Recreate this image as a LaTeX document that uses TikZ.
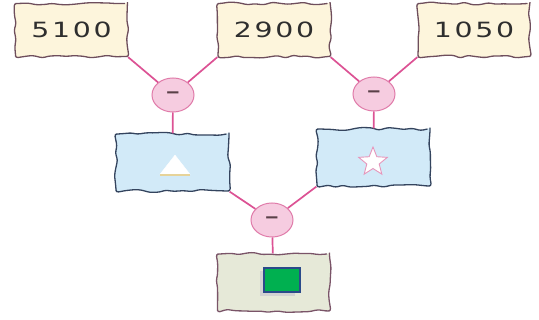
\documentclass[tikz,border=0pt]{standalone}
\usepackage{fontspec}
\setmainfont{DejaVu Sans}
\usetikzlibrary{shapes.geometric,decorations.pathmorphing}
\definecolor{linepink}{HTML}{DC5294}
\definecolor{circfill}{HTML}{F6CCE0}
\definecolor{circdraw}{HTML}{E07CAA}
\definecolor{yelfill}{HTML}{FDF5DC}
\definecolor{yeldraw}{HTML}{6E4E5C}
\definecolor{bluefill}{HTML}{D2EAF8}
\definecolor{bluedraw}{HTML}{34445E}
\definecolor{begfill}{HTML}{E6E9D8}
\definecolor{begdraw}{HTML}{7A5468}
\definecolor{numcol}{HTML}{2E2E2E}
\definecolor{minuscol}{HTML}{5A4048}
\definecolor{greenfill}{HTML}{00B050}
\definecolor{navy}{HTML}{2A4A8A}
\newcommand\wnum[1]{\scalebox{1.35}[1]{#1}}
\pgfmathsetseed{11}
\tikzset{
  wavy/.style={draw, line width=1.3pt, rounded corners=2.5pt,
    decoration={random steps,segment length=8pt,amplitude=1.6pt}, decorate,
    inner sep=0pt},
  numbox/.style={wavy, fill=yelfill, draw=yeldraw, minimum width=112pt, minimum height=53pt,
    font=\fontsize{21}{22}\selectfont, text=numcol},
  bluebox/.style={wavy, fill=bluefill, draw=bluedraw, minimum width=113pt, minimum height=57pt},
  begbox/.style={wavy, fill=begfill, draw=begdraw, minimum width=112pt, minimum height=57pt},
  opcirc/.style={ellipse, fill=circfill, draw=circdraw, line width=1pt,
    minimum width=42pt, minimum height=34pt, inner sep=0pt,
    font=\fontsize{18}{18}\selectfont\bfseries, text=minuscol},
  conn/.style={draw=linepink, line width=1.7pt},
}
\begin{document}
\begin{tikzpicture}[x=1pt,y=-1pt]
\useasboundingbox (0,0) rectangle (539,320);
% top number boxes
\node[numbox] (t1) at (71.5,30) {\wnum{5\kern2pt1\kern2pt0\kern2pt0}};
\node[numbox] (t2) at (274,30) {\wnum{2\kern2pt9\kern2pt0\kern2pt0}};
\node[numbox] (t3) at (474,30) {\wnum{1\kern2pt0\kern2pt5\kern2pt0}};
% operation circles
\node[opcirc] (c1) at (173,95) {−};
\node[opcirc] (c2) at (374,94) {−};
\node[opcirc] (c3) at (272,220) {−};
% middle boxes
\node[bluebox] (m1) at (172.5,162.5) {};
\node[bluebox] (m2) at (373.5,157.5) {};
% bottom box
\node[begbox] (b) at (273.5,282.5) {};
% symbols
\node[isosceles triangle, isosceles triangle apex angle=76, shape border rotate=90,
  fill=white, draw=white, minimum width=30pt, minimum height=18pt, inner sep=0pt] (tri) at (175,167) {};
\draw[draw=black!15!yellow!40!brown!50, line width=2pt] (tri.left corner) -- (tri.right corner);
\node[star, star points=5, star point ratio=2.3, fill=white, draw=circdraw!80, line width=0.9pt,
  minimum size=30pt, inner sep=0pt] (st) at (373,162) {};
\fill[gray!35] (260,271) rectangle (295,296);
\node[fill=greenfill, draw=navy, line width=2pt, minimum width=36pt, minimum height=24pt,
  inner sep=0pt] (gr) at (282,280.5) {};
% connectors
\draw[conn] (t1.south east) -- (c1);
\draw[conn] (t2.south west) -- (c1);
\draw[conn] (t2.south east) -- (c2);
\draw[conn] (t3.south west) -- (c2);
\draw[conn] (c1) -- (m1);
\draw[conn] (c2) -- (m2);
\draw[conn] (m1.south east) -- (c3);
\draw[conn] (m2.south west) -- (c3);
\draw[conn] (c3) -- (b);
\end{tikzpicture}
\end{document}
